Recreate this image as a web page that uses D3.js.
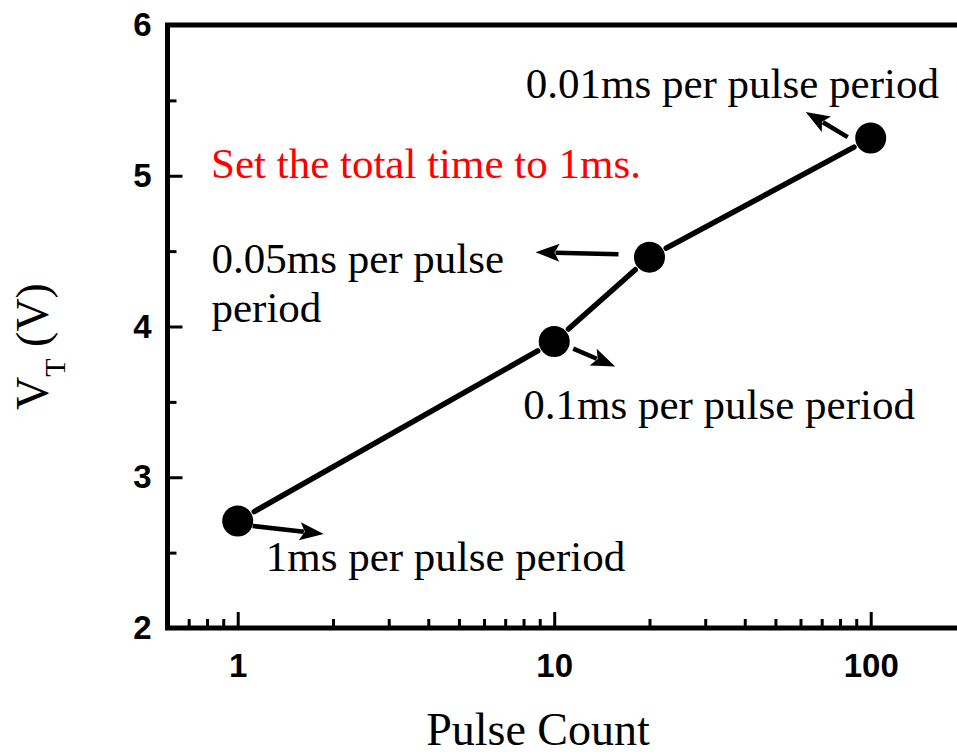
<!DOCTYPE html>
<html>
<head>
<meta charset="utf-8">
<script src="https://cdn.jsdelivr.net/npm/d3@7"></script>
<style>
  html, body { margin: 0; padding: 0; background: #fff; }
  svg { display: block; }
</style>
</head>
<body>
<svg id="chart" width="957" height="756"></svg>
<script>
// Threshold voltage versus pulse count, total programming time fixed at 1 ms
const pulseCounts = [1, 10, 20, 100];
const thresholdV  = [2.71, 3.90, 4.46, 5.25];

// Per-point annotations: label lines and arrow (pixel offsets from the point)
const noteLines = [
  ["1ms per pulse period"],
  ["0.1ms per pulse period"],
  ["0.05ms per pulse", "period"],
  ["0.01ms per pulse period"]
];
const noteAnchor = [[28, 50], [-31, 77], [-438, 16], [-345, -40]];
const arrowFrom  = [[15, 5], [19, 7], [-31, -3], [-23, -1]];
const arrowTo    = [[86, 13], [61, 25], [-114, -5], [-65, -26]];

const noteTitle = "Set the total time to 1ms.";

const xMajorTicks = [1, 10, 100];
const xMinorTicks = [0.7, 0.8, 0.9, 2, 3, 4, 5, 6, 7, 8, 9, 20, 30, 40, 50, 60, 70, 80, 90];
const yMajorTicks = [2, 3, 4, 5, 6];
const yMinorTicks = [2.5, 3.5, 4.5, 5.5];

const svg = d3.select("#chart");

const x = d3.scaleLog().domain([0.6, 200]).range([167.5, 167.5 + 316.5 * Math.log10(200 / 0.6)]);
const y = d3.scaleLinear().domain([2, 6]).range([628, 25]);

const serif = "'Liberation Serif', 'Times New Roman', serif";
const sans = "'Liberation Sans', Arial, sans-serif";

// Axes with inward ticks
const xAxisMajor = d3.axisBottom(x).tickValues(xMajorTicks).tickSize(-16).tickFormat(d3.format("d")).tickPadding(26);
const xAxisMinor = d3.axisBottom(x).tickValues(xMinorTicks).tickSize(-9).tickFormat("");
const yAxisMajor = d3.axisLeft(y).tickValues(yMajorTicks).tickSize(-15).tickFormat(d3.format("d")).tickPadding(16);
const yAxisMinor = d3.axisLeft(y).tickValues(yMinorTicks).tickSize(-9).tickFormat("");

function styleAxis(g) {
  g.select(".domain").remove();
  g.selectAll(".tick line").attr("stroke", "#000").attr("stroke-width", 3);
  g.selectAll(".tick text")
    .attr("fill", "#000")
    .style("font-family", sans)
    .style("font-weight", "bold")
    .style("font-size", "33px");
}

svg.append("g").attr("transform", `translate(0,${y(2)})`).call(xAxisMinor).call(styleAxis);
svg.append("g").attr("transform", `translate(0,${y(2)})`).call(xAxisMajor).call(styleAxis);
svg.append("g").attr("transform", `translate(${x(0.6)},0)`).call(yAxisMinor).call(styleAxis);
svg.append("g").attr("transform", `translate(${x(0.6)},0)`).call(yAxisMajor).call(styleAxis);

// Frame
svg.append("rect")
  .attr("x", x(0.6)).attr("y", y(6))
  .attr("width", x(200) - x(0.6)).attr("height", y(2) - y(6))
  .attr("fill", "none").attr("stroke", "#000").attr("stroke-width", 5);

// Axis titles
svg.append("text")
  .attr("x", 538).attr("y", 745)
  .attr("text-anchor", "middle")
  .style("font-family", serif).style("font-size", "46px")
  .text("Pulse Count");

const yTitle = svg.append("text")
  .attr("transform", "translate(48,410) rotate(-90)")
  .attr("text-anchor", "start")
  .style("font-family", serif).style("font-size", "46px");
yTitle.append("tspan").text("V");
yTitle.append("tspan").attr("dy", 17).style("font-size", "30px").text("T");
yTitle.append("tspan").attr("dy", -17).text("\u00a0(V)");

// Data
const pts = pulseCounts.map((c, i) => ({ c, v: thresholdV[i], px: x(c), py: y(thresholdV[i]) }));

// Connecting segments with gaps around the markers
const gap = 19;
const segs = d3.pairs(pts).map(([a, b]) => {
  const dx = b.px - a.px, dy = b.py - a.py, L = Math.hypot(dx, dy);
  const ux = dx / L, uy = dy / L;
  return { x1: a.px + ux * gap, y1: a.py + uy * gap, x2: b.px - ux * gap, y2: b.py - uy * gap };
});
svg.append("g").selectAll("line").data(segs).join("line")
  .attr("x1", d => d.x1).attr("y1", d => d.y1)
  .attr("x2", d => d.x2).attr("y2", d => d.y2)
  .attr("stroke", "#000").attr("stroke-width", 5.5).attr("stroke-linecap", "round");

svg.append("g").selectAll("circle").data(pts).join("circle")
  .attr("cx", d => d.px).attr("cy", d => d.py).attr("r", 15.5)
  .attr("fill", "#000");

// Arrows: shaft plus filled triangular head
const arrows = pts.map((d, i) => {
  const x1 = d.px + arrowFrom[i][0], y1 = d.py + arrowFrom[i][1];
  const x2 = d.px + arrowTo[i][0], y2 = d.py + arrowTo[i][1];
  const L = Math.hypot(x2 - x1, y2 - y1), ux = (x2 - x1) / L, uy = (y2 - y1) / L;
  return { x1, y1, x2, y2, ux, uy };
});
const headLen = 24, headHalf = 9;
const ag = svg.append("g");
ag.selectAll("line").data(arrows).join("line")
  .attr("x1", d => d.x1).attr("y1", d => d.y1)
  .attr("x2", d => d.x2 - d.ux * (headLen - 4)).attr("y2", d => d.y2 - d.uy * (headLen - 4))
  .attr("stroke", "#000").attr("stroke-width", 4.5);
ag.selectAll("path").data(arrows).join("path")
  .attr("d", d => {
    const bx = d.x2 - d.ux * headLen, by = d.y2 - d.uy * headLen;
    const nx = -d.uy, ny = d.ux;
    return `M${d.x2},${d.y2}L${bx + nx * headHalf},${by + ny * headHalf}` +
           `L${d.x2 - d.ux * (headLen - 5)},${d.y2 - d.uy * (headLen - 5)}` +
           `L${bx - nx * headHalf},${by - ny * headHalf}Z`;
  })
  .attr("fill", "#000");

// Point labels
const notes = svg.append("g").selectAll("text").data(pts).join("text")
  .attr("x", (d, i) => d.px + noteAnchor[i][0])
  .attr("y", (d, i) => d.py + noteAnchor[i][1])
  .style("font-family", serif).style("font-size", "43px").attr("fill", "#000");
notes.each(function (d, i) {
  const t = d3.select(this);
  noteLines[i].forEach((line, k) => {
    t.append("tspan")
      .attr("x", d.px + noteAnchor[i][0])
      .attr("dy", k === 0 ? 0 : 49)
      .text(line);
  });
});

svg.append("text")
  .attr("x", 211).attr("y", 178)
  .style("font-family", serif).style("font-size", "43px")
  .attr("fill", "#ff0000")
  .text(noteTitle);
</script>
</body>
</html>
